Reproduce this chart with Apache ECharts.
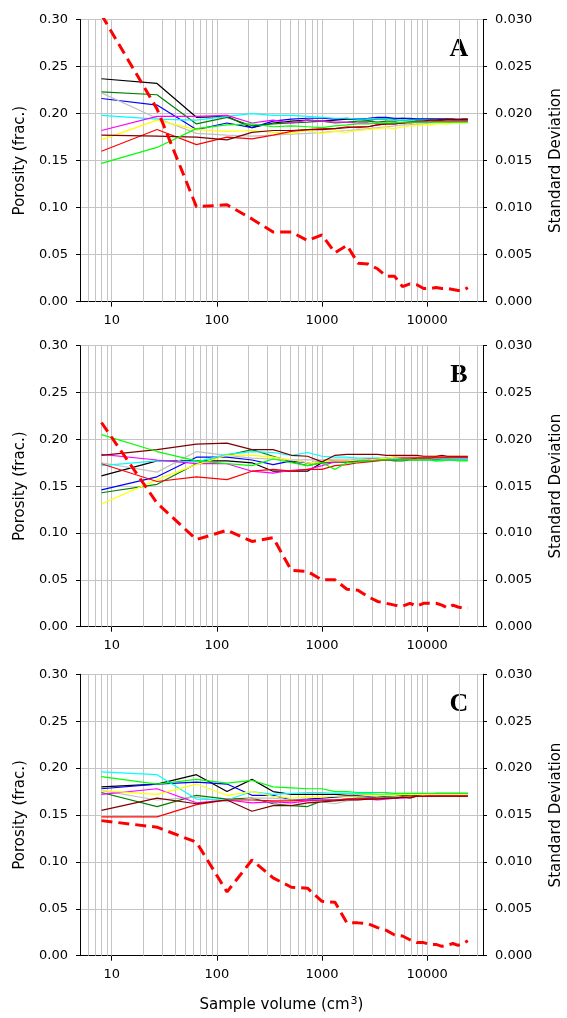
<!DOCTYPE html>
<html>
<head>
<meta charset="utf-8">
<script src="https://cdn.jsdelivr.net/npm/echarts@6/dist/echarts.min.js"></script>
<style>
  html, body { margin: 0; padding: 0; background: #fff; }
  #chart { width: 567px; height: 1018px; }
</style>
</head>
<body>
<div id="chart"></div>
<script>
// Sample volumes (cm^3): cubes of edge 2..29
const volumes = [8, 27, 64, 125, 216, 343, 512, 729, 1000, 1331, 1728, 2197, 2744, 3375,
  4096, 4913, 5832, 6859, 8000, 9261, 10648, 12167, 13824, 15625, 17576, 19683, 21952, 24389];

const xTickLabels = [10, 100, 1000, 10000];
const panelLabels = ['A', 'B', 'C'];

// ---- Panel A: porosity of ten sub-volume locations ----
const a1 = [0.237,0.232,0.196,0.197,0.185,0.190,0.192,0.193,0.192,0.193,0.194,0.194,0.193,0.194,0.194,0.194,0.195,0.194,0.194,0.194,0.194,0.194,0.194,0.194,0.194,0.193,0.194,0.194];
const a2 = [0.223,0.220,0.189,0.196,0.187,0.189,0.190,0.191,0.192,0.190,0.191,0.192,0.192,0.191,0.192,0.192,0.193,0.192,0.192,0.192,0.193,0.192,0.192,0.192,0.192,0.192,0.192,0.192];
const a3 = [0.216,0.209,0.183,0.190,0.185,0.192,0.194,0.195,0.195,0.194,0.195,0.194,0.195,0.196,0.196,0.195,0.195,0.195,0.194,0.194,0.194,0.194,0.194,0.194,0.193,0.193,0.193,0.193];
const a4 = [0.222,0.195,0.179,0.177,0.176,0.177,0.178,0.179,0.180,0.181,0.182,0.183,0.184,0.185,0.186,0.187,0.188,0.188,0.189,0.189,0.190,0.190,0.190,0.190,0.191,0.191,0.191,0.191];
const a5 = [0.198,0.194,0.193,0.197,0.200,0.198,0.198,0.197,0.196,0.195,0.195,0.194,0.194,0.194,0.194,0.193,0.193,0.193,0.193,0.193,0.193,0.193,0.192,0.192,0.192,0.192,0.192,0.192];
const a6 = [0.182,0.197,0.197,0.198,0.190,0.193,0.190,0.193,0.192,0.191,0.191,0.190,0.190,0.189,0.189,0.190,0.190,0.191,0.191,0.192,0.192,0.192,0.192,0.192,0.192,0.192,0.192,0.192];
const a7 = [0.172,0.193,0.183,0.181,0.182,0.180,0.179,0.182,0.179,0.181,0.180,0.182,0.183,0.184,0.185,0.184,0.186,0.187,0.187,0.188,0.188,0.189,0.189,0.189,0.190,0.190,0.190,0.190];
const a8 = [0.160,0.183,0.167,0.175,0.173,0.177,0.181,0.183,0.184,0.184,0.186,0.185,0.186,0.188,0.189,0.189,0.190,0.190,0.191,0.191,0.191,0.192,0.192,0.192,0.192,0.192,0.192,0.192];
const a9 = [0.177,0.176,0.175,0.172,0.180,0.182,0.182,0.183,0.183,0.184,0.185,0.186,0.186,0.188,0.189,0.189,0.190,0.191,0.192,0.192,0.193,0.193,0.193,0.194,0.194,0.194,0.194,0.194];
const a10 = [0.147,0.164,0.184,0.188,0.189,0.186,0.187,0.186,0.185,0.187,0.188,0.189,0.189,0.190,0.190,0.190,0.191,0.191,0.191,0.191,0.191,0.191,0.191,0.191,0.191,0.191,0.191,0.191];
const stdA = [0.0305,0.0205,0.0101,0.0103,0.0088,0.0074,0.0074,0.0065,0.0071,0.0052,0.0060,0.0041,0.0040,0.0035,0.0027,0.0027,0.0016,0.0019,0.0018,0.0014,0.0014,0.0015,0.0014,0.0014,0.0013,0.0012,0.0012,0.0015];

// ---- Panel B ----
const b1 = [0.161,0.177,0.177,0.177,0.175,0.166,0.166,0.166,0.175,0.176,0.176,0.177,0.177,0.178,0.178,0.179,0.179,0.180,0.180,0.180,0.180,0.180,0.180,0.180,0.181,0.181,0.181,0.181];
const b2 = [0.143,0.152,0.174,0.183,0.189,0.182,0.176,0.172,0.175,0.176,0.176,0.177,0.177,0.178,0.178,0.177,0.177,0.178,0.178,0.178,0.178,0.178,0.178,0.178,0.178,0.178,0.178,0.178];
const b3 = [0.146,0.160,0.181,0.181,0.178,0.173,0.177,0.175,0.176,0.177,0.177,0.177,0.177,0.178,0.178,0.178,0.179,0.179,0.179,0.179,0.180,0.180,0.180,0.180,0.180,0.180,0.180,0.180];
const b4 = [0.175,0.165,0.187,0.183,0.180,0.179,0.178,0.178,0.178,0.179,0.179,0.179,0.179,0.180,0.180,0.180,0.180,0.180,0.180,0.180,0.180,0.180,0.180,0.180,0.180,0.180,0.180,0.180];
const b5 = [0.172,0.177,0.176,0.184,0.187,0.186,0.183,0.186,0.182,0.181,0.181,0.180,0.180,0.180,0.179,0.179,0.179,0.179,0.179,0.178,0.178,0.177,0.178,0.178,0.178,0.178,0.178,0.178];
const b6 = [0.184,0.178,0.174,0.174,0.166,0.164,0.167,0.168,0.172,0.176,0.177,0.178,0.179,0.179,0.180,0.181,0.181,0.181,0.181,0.181,0.181,0.181,0.181,0.181,0.181,0.181,0.181,0.181];
const b7 = [0.131,0.157,0.173,0.183,0.183,0.181,0.178,0.175,0.176,0.177,0.177,0.178,0.178,0.179,0.180,0.181,0.182,0.182,0.182,0.182,0.182,0.182,0.182,0.182,0.182,0.182,0.182,0.182];
const b8 = [0.174,0.155,0.160,0.157,0.166,0.168,0.166,0.168,0.168,0.172,0.173,0.175,0.176,0.177,0.178,0.178,0.179,0.179,0.180,0.180,0.180,0.181,0.181,0.181,0.181,0.181,0.181,0.181];
const b9 = [0.183,0.189,0.195,0.196,0.189,0.189,0.183,0.182,0.176,0.183,0.184,0.184,0.184,0.184,0.183,0.183,0.183,0.183,0.183,0.182,0.182,0.182,0.183,0.182,0.182,0.182,0.182,0.182];
const b10 = [0.205,0.187,0.177,0.174,0.172,0.179,0.175,0.172,0.175,0.168,0.175,0.176,0.177,0.178,0.178,0.178,0.178,0.178,0.178,0.178,0.178,0.177,0.177,0.178,0.178,0.177,0.177,0.177];
const stdB = [0.0218,0.0132,0.0093,0.0103,0.0091,0.0095,0.0060,0.0059,0.0050,0.0050,0.0040,0.0039,0.0032,0.0027,0.0025,0.0023,0.0022,0.0025,0.0022,0.0025,0.0025,0.0025,0.0023,0.0020,0.0023,0.0021,0.0020,0.0020];

// ---- Panel C ----
const c1 = [0.180,0.183,0.193,0.175,0.188,0.175,0.172,0.172,0.172,0.172,0.171,0.171,0.171,0.171,0.171,0.171,0.171,0.171,0.171,0.171,0.171,0.171,0.171,0.171,0.171,0.171,0.171,0.171];
const c2 = [0.174,0.159,0.171,0.167,0.168,0.162,0.160,0.159,0.165,0.166,0.167,0.168,0.168,0.169,0.170,0.170,0.171,0.171,0.172,0.172,0.172,0.173,0.173,0.173,0.173,0.173,0.173,0.173];
const c3 = [0.178,0.183,0.185,0.183,0.171,0.171,0.166,0.167,0.168,0.169,0.170,0.170,0.170,0.171,0.172,0.172,0.172,0.172,0.172,0.172,0.172,0.172,0.172,0.172,0.172,0.172,0.172,0.172];
const c4 = [0.176,0.166,0.169,0.164,0.168,0.168,0.166,0.166,0.164,0.162,0.165,0.166,0.167,0.168,0.168,0.169,0.169,0.170,0.170,0.171,0.171,0.171,0.171,0.171,0.171,0.171,0.171,0.171];
const c5 = [0.196,0.193,0.167,0.166,0.175,0.172,0.173,0.174,0.174,0.173,0.173,0.173,0.173,0.172,0.172,0.172,0.172,0.172,0.172,0.172,0.172,0.172,0.172,0.172,0.172,0.172,0.172,0.172];
const c6 = [0.172,0.178,0.163,0.166,0.163,0.164,0.163,0.165,0.166,0.166,0.167,0.167,0.167,0.166,0.167,0.168,0.168,0.169,0.170,0.170,0.171,0.171,0.171,0.171,0.171,0.171,0.171,0.171];
const c7 = [0.176,0.172,0.183,0.171,0.175,0.170,0.168,0.169,0.169,0.170,0.170,0.170,0.171,0.171,0.171,0.171,0.172,0.172,0.172,0.172,0.172,0.172,0.172,0.172,0.172,0.172,0.172,0.172];
const c8 = [0.148,0.148,0.161,0.166,0.166,0.165,0.165,0.166,0.166,0.166,0.167,0.167,0.168,0.168,0.168,0.168,0.169,0.169,0.170,0.170,0.170,0.170,0.170,0.170,0.170,0.170,0.170,0.170];
const c9 = [0.155,0.168,0.162,0.166,0.154,0.160,0.160,0.163,0.164,0.165,0.166,0.166,0.167,0.167,0.168,0.168,0.169,0.168,0.170,0.170,0.170,0.170,0.170,0.170,0.170,0.170,0.170,0.170];
const c10 = [0.191,0.183,0.188,0.184,0.187,0.180,0.179,0.178,0.178,0.175,0.175,0.174,0.174,0.174,0.174,0.173,0.173,0.173,0.173,0.173,0.173,0.173,0.173,0.173,0.173,0.173,0.173,0.173];
const stdC = [0.0144,0.0137,0.0121,0.0068,0.0102,0.0083,0.0073,0.0072,0.0058,0.0057,0.0035,0.0035,0.0034,0.0030,0.0027,0.0022,0.0021,0.0017,0.0014,0.0014,0.0012,0.0012,0.0010,0.0011,0.0013,0.0011,0.0013,0.0016];

// line colours, in the order of the arrays above
const lineColors = ['#000000', '#008000', '#0000ff', '#c0c0c0', '#00ffff',
                    '#ff00ff', '#ffff00', '#ff0000', '#800000', '#00ff00'];

const panelLines = [
  [a1, a2, a3, a4, a5, a6, a7, a8, a9, a10],
  [b1, b2, b3, b4, b5, b6, b7, b8, b9, b10],
  [c1, c2, c3, c4, c5, c6, c7, c8, c9, c10]
];
const panelStd = [stdA, stdB, stdC];

// plot-area placement of each panel
const gridTops = [19.5, 345.7, 674.3];
const gridHeights = [282.2, 281, 281.4];
const GRID_LEFT = 80, GRID_RIGHT = 84;
const X_MIN = 5, X_MAX = 34000;

// vertical grid lines at 1..9 x 10^k within the axis range
const vGrid = [];
for (let e = 0; e <= 4; e++) {
  for (let m = 1; m <= 9; m++) {
    const v = m * Math.pow(10, e);
    if (v > X_MIN && v < X_MAX) vGrid.push(v);
  }
}

const FONT = '"DejaVu Sans", sans-serif';
const gridColor = '#c4c4c4';

const grids = [], xAxes = [], yAxes = [], series = [], graphics = [];

for (let p = 0; p < 3; p++) {
  grids.push({ left: GRID_LEFT, right: GRID_RIGHT, top: gridTops[p], height: gridHeights[p],
               outerBoundsMode: 'none', containLabel: false });

  const isLast = p === 2;
  xAxes.push({
    type: 'log', logBase: 10, gridIndex: p, min: X_MIN, max: X_MAX,
    axisLine: { show: true, onZero: false, lineStyle: { color: '#000', width: 1 } },
    axisTick: { show: true, inside: false, length: 5, customValues: xTickLabels, lineStyle: { color: '#000' } },
    axisLabel: { customValues: xTickLabels, color: '#000', fontFamily: FONT, fontSize: 13, margin: 12,
                 formatter: v => String(Math.round(v)) },
    splitLine: { show: false },
    name: isLast ? 'Sample volume (cm{sup|3})' : '',
    nameLocation: 'middle', nameGap: 40,
    nameTextStyle: {
      color: '#000', fontFamily: FONT, fontSize: 15,
      rich: { sup: { fontSize: 11, fontFamily: FONT, color: '#000', verticalAlign: 'top', padding: [0, 0, 8, 1] } }
    }
  });

  yAxes.push({
    type: 'value', gridIndex: p, position: 'left', min: 0, max: 0.3, interval: 0.05,
    axisLine: { show: true, lineStyle: { color: '#000', width: 1 } },
    axisTick: { show: true, length: 4, lineStyle: { color: '#000' } },
    axisLabel: { color: '#000', fontFamily: FONT, fontSize: 13, margin: 12, formatter: v => v.toFixed(2) },
    splitLine: { show: true, lineStyle: { color: gridColor, width: 1 } },
    name: 'Porosity (frac.)', nameLocation: 'middle', nameGap: 52, nameRotate: 90,
    nameTextStyle: { color: '#000', fontFamily: FONT, fontSize: 15 }
  });
  yAxes.push({
    type: 'value', gridIndex: p, position: 'right', min: 0, max: 0.03, interval: 0.005,
    axisLine: { show: true, lineStyle: { color: '#000', width: 1 } },
    axisTick: { show: true, length: 4, lineStyle: { color: '#000' } },
    axisLabel: { color: '#000', fontFamily: FONT, fontSize: 13, margin: 12, formatter: v => v.toFixed(3) },
    splitLine: { show: false },
    name: 'Standard Deviation', nameLocation: 'middle', nameGap: 66, nameRotate: 90,
    nameTextStyle: { color: '#000', fontFamily: FONT, fontSize: 15 }
  });

  // minor/major vertical grid lines of the log axis
  series.push({
    type: 'line', xAxisIndex: p, yAxisIndex: 2 * p, data: [], silent: true,
    markLine: {
      silent: true, symbol: ['none', 'none'], z: 1, animation: false,
      label: { show: false },
      lineStyle: { color: gridColor, width: 1, type: 'solid' },
      emphasis: { disabled: true },
      data: vGrid.map(v => ({ xAxis: v }))
    }
  });

  panelLines[p].forEach((vals, i) => {
    series.push({
      type: 'line', xAxisIndex: p, yAxisIndex: 2 * p,
      data: volumes.map((v, k) => [v, vals[k]]),
      showSymbol: false, symbol: 'none', silent: true, clip: true,
      lineStyle: { color: lineColors[i], width: 1.2 }
    });
  });

  series.push({
    type: 'line', xAxisIndex: p, yAxisIndex: 2 * p + 1,
    data: volumes.map((v, k) => [v, panelStd[p][k]]),
    showSymbol: false, symbol: 'none', silent: true, clip: true, z: 3,
    lineStyle: { color: '#ff0000', width: 3, type: [11, 6] }
  });

  // panel letter on a white box
  graphics.push({
    type: 'group', left: 440, top: gridTops[p] + 7.5, z: 100,
    children: [
      { type: 'rect', shape: { x: 0, y: 0, width: 36, height: 45 }, style: { fill: '#fff' } },
      { type: 'text', x: 19, y: 22.5,
        style: { text: panelLabels[p], fill: '#000', font: 'bold 26px "Liberation Serif", serif',
                 align: 'center', verticalAlign: 'middle' } }
    ]
  });
}

const chart = echarts.init(document.getElementById('chart'), null, { renderer: 'canvas' });
chart.setOption({
  animation: false,
  backgroundColor: '#fff',
  grid: grids,
  xAxis: xAxes,
  yAxis: yAxes,
  series: series,
  graphic: graphics
});
</script>
</body>
</html>
